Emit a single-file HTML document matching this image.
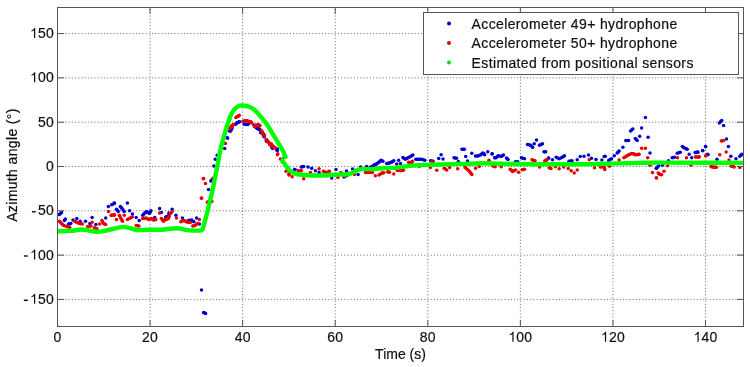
<!DOCTYPE html>
<html><head><meta charset="utf-8"><style>
html,body{margin:0;padding:0;background:#fff;width:750px;height:367px;overflow:hidden}
svg{display:block}
.g{stroke:#707070;stroke-width:1;stroke-dasharray:1.05 2.155;stroke-dashoffset:1.7;fill:none}
.a{stroke:#555;stroke-width:1}
.t{font-family:"Liberation Sans",sans-serif;font-size:14.0px;fill:#111;stroke:#111;stroke-width:0.2px}
.tf{fill:#111;stroke:#111;stroke-width:0.2px}
.lg{letter-spacing:0.37px}
</style></head><body>
<svg width="750" height="367" viewBox="0 0 750 367">
<defs><clipPath id="cp"><rect x="57.5" y="7.5" width="686.0" height="319.0"/></clipPath>
<filter id="bl" x="0" y="0" width="100%" height="100%"><feGaussianBlur stdDeviation="0.35"/></filter></defs>
<g filter="url(#bl)">
<line x1="150.07" y1="7.5" x2="150.07" y2="326.5" class="g"/>
<line x1="242.64" y1="7.5" x2="242.64" y2="326.5" class="g"/>
<line x1="335.22" y1="7.5" x2="335.22" y2="326.5" class="g"/>
<line x1="427.79" y1="7.5" x2="427.79" y2="326.5" class="g"/>
<line x1="520.36" y1="7.5" x2="520.36" y2="326.5" class="g"/>
<line x1="612.93" y1="7.5" x2="612.93" y2="326.5" class="g"/>
<line x1="705.50" y1="7.5" x2="705.50" y2="326.5" class="g"/>
<line x1="57.5" y1="299.41" x2="743.5" y2="299.41" class="g"/>
<line x1="57.5" y1="255.11" x2="743.5" y2="255.11" class="g"/>
<line x1="57.5" y1="210.81" x2="743.5" y2="210.81" class="g"/>
<line x1="57.5" y1="166.50" x2="743.5" y2="166.50" class="g"/>
<line x1="57.5" y1="122.19" x2="743.5" y2="122.19" class="g"/>
<line x1="57.5" y1="77.89" x2="743.5" y2="77.89" class="g"/>
<line x1="57.5" y1="33.59" x2="743.5" y2="33.59" class="g"/>
<g clip-path="url(#cp)"><g fill="#0000d2"><circle cx="370.5" cy="167.0" r="1.75"/><circle cx="373.5" cy="165.5" r="1.75"/><circle cx="375.0" cy="164.7" r="1.75"/><circle cx="257.1" cy="128.1" r="1.75"/><circle cx="259.8" cy="129.2" r="1.75"/><circle cx="260.9" cy="132.4" r="1.75"/><circle cx="264.2" cy="136.8" r="1.75"/><circle cx="267.4" cy="141.7" r="1.75"/><circle cx="272.9" cy="148.2" r="1.75"/><circle cx="277.2" cy="150.4" r="1.75"/><circle cx="59.4" cy="214.6" r="1.75"/><circle cx="61.5" cy="212.4" r="1.75"/><circle cx="64.3" cy="220.6" r="1.75"/><circle cx="65.4" cy="219.0" r="1.75"/><circle cx="68.6" cy="223.9" r="1.75"/><circle cx="70.8" cy="223.4" r="1.75"/><circle cx="73.0" cy="220.1" r="1.75"/><circle cx="76.8" cy="218.4" r="1.75"/><circle cx="80.1" cy="221.2" r="1.75"/><circle cx="85.5" cy="221.2" r="1.75"/><circle cx="92.1" cy="217.4" r="1.75"/><circle cx="89.9" cy="223.4" r="1.75"/><circle cx="95.9" cy="224.4" r="1.75"/><circle cx="105.7" cy="217.9" r="1.75"/><circle cx="108.4" cy="206.5" r="1.75"/><circle cx="111.7" cy="204.8" r="1.75"/><circle cx="114.4" cy="203.2" r="1.75"/><circle cx="114.4" cy="202.9" r="1.75"/><circle cx="116.5" cy="209.2" r="1.75"/><circle cx="118.2" cy="211.4" r="1.75"/><circle cx="120.4" cy="206.5" r="1.75"/><circle cx="122.0" cy="208.6" r="1.75"/><circle cx="124.2" cy="211.4" r="1.75"/><circle cx="127.4" cy="202.9" r="1.75"/><circle cx="129.6" cy="210.8" r="1.75"/><circle cx="132.4" cy="214.1" r="1.75"/><circle cx="136.2" cy="217.4" r="1.75"/><circle cx="139.2" cy="220.6" r="1.75"/><circle cx="142.7" cy="215.2" r="1.75"/><circle cx="144.9" cy="213.0" r="1.75"/><circle cx="146.5" cy="211.4" r="1.75"/><circle cx="150.9" cy="210.8" r="1.75"/><circle cx="149.3" cy="213.5" r="1.75"/><circle cx="154.7" cy="217.4" r="1.75"/><circle cx="159.6" cy="208.6" r="1.75"/><circle cx="161.3" cy="212.4" r="1.75"/><circle cx="165.6" cy="217.4" r="1.75"/><circle cx="168.9" cy="213.0" r="1.75"/><circle cx="166.1" cy="216.8" r="1.75"/><circle cx="168.8" cy="216.3" r="1.75"/><circle cx="172.1" cy="209.2" r="1.75"/><circle cx="175.9" cy="215.2" r="1.75"/><circle cx="182.4" cy="217.9" r="1.75"/><circle cx="188.4" cy="220.6" r="1.75"/><circle cx="191.7" cy="220.1" r="1.75"/><circle cx="193.9" cy="221.7" r="1.75"/><circle cx="196.6" cy="217.9" r="1.75"/><circle cx="199.4" cy="223.9" r="1.75"/><circle cx="201.5" cy="290.1" r="1.75"/><circle cx="203.6" cy="312.5" r="1.75"/><circle cx="205.6" cy="313.6" r="1.75"/><circle cx="208.5" cy="189.6" r="1.75"/><circle cx="210.9" cy="181.1" r="1.75"/><circle cx="211.8" cy="180.0" r="1.75"/><circle cx="213.8" cy="166.1" r="1.75"/><circle cx="215.2" cy="159.3" r="1.75"/><circle cx="217.2" cy="155.2" r="1.75"/><circle cx="224.7" cy="148.4" r="1.75"/><circle cx="227.5" cy="138.2" r="1.75"/><circle cx="230.9" cy="130.7" r="1.75"/><circle cx="227.2" cy="137.6" r="1.75"/><circle cx="229.4" cy="131.1" r="1.75"/><circle cx="231.0" cy="128.9" r="1.75"/><circle cx="234.8" cy="124.5" r="1.75"/><circle cx="238.1" cy="122.3" r="1.75"/><circle cx="239.7" cy="121.8" r="1.75"/><circle cx="244.1" cy="124.0" r="1.75"/><circle cx="246.8" cy="124.5" r="1.75"/><circle cx="248.4" cy="124.0" r="1.75"/><circle cx="253.9" cy="125.0" r="1.75"/><circle cx="256.1" cy="127.8" r="1.75"/><circle cx="258.2" cy="128.9" r="1.75"/><circle cx="261.0" cy="131.1" r="1.75"/><circle cx="263.1" cy="133.8" r="1.75"/><circle cx="236.4" cy="123.4" r="1.75"/><circle cx="232.1" cy="127.7" r="1.75"/><circle cx="257.5" cy="127.9" r="1.75"/><circle cx="260.9" cy="132.7" r="1.75"/><circle cx="263.6" cy="136.1" r="1.75"/><circle cx="266.3" cy="140.9" r="1.75"/><circle cx="271.8" cy="147.0" r="1.75"/><circle cx="277.2" cy="149.0" r="1.75"/><circle cx="272.2" cy="148.1" r="1.75"/><circle cx="277.1" cy="150.3" r="1.75"/><circle cx="284.2" cy="157.4" r="1.75"/><circle cx="294.5" cy="169.4" r="1.75"/><circle cx="301.3" cy="167.0" r="1.75"/><circle cx="303.7" cy="166.4" r="1.75"/><circle cx="308.0" cy="167.0" r="1.75"/><circle cx="311.7" cy="168.2" r="1.75"/><circle cx="315.4" cy="170.7" r="1.75"/><circle cx="319.1" cy="172.5" r="1.75"/><circle cx="326.4" cy="173.1" r="1.75"/><circle cx="295.1" cy="169.4" r="1.75"/><circle cx="327.5" cy="175.7" r="1.75"/><circle cx="331.7" cy="178.1" r="1.75"/><circle cx="336.0" cy="169.5" r="1.75"/><circle cx="344.0" cy="176.9" r="1.75"/><circle cx="346.5" cy="171.0" r="1.75"/><circle cx="352.6" cy="168.9" r="1.75"/><circle cx="358.1" cy="174.4" r="1.75"/><circle cx="360.6" cy="167.1" r="1.75"/><circle cx="366.7" cy="166.5" r="1.75"/><circle cx="372.9" cy="167.1" r="1.75"/><circle cx="376.5" cy="164.0" r="1.75"/><circle cx="379.0" cy="162.2" r="1.75"/><circle cx="441.1" cy="154.7" r="1.75"/><circle cx="443.0" cy="159.0" r="1.75"/><circle cx="454.0" cy="157.8" r="1.75"/><circle cx="456.5" cy="158.2" r="1.75"/><circle cx="458.3" cy="161.5" r="1.75"/><circle cx="462.0" cy="149.2" r="1.75"/><circle cx="464.4" cy="149.2" r="1.75"/><circle cx="465.7" cy="156.6" r="1.75"/><circle cx="467.5" cy="160.9" r="1.75"/><circle cx="471.8" cy="153.3" r="1.75"/><circle cx="475.5" cy="156.0" r="1.75"/><circle cx="478.0" cy="156.0" r="1.75"/><circle cx="481.0" cy="154.7" r="1.75"/><circle cx="482.9" cy="152.9" r="1.75"/><circle cx="484.7" cy="154.7" r="1.75"/><circle cx="487.8" cy="151.7" r="1.75"/><circle cx="492.0" cy="154.1" r="1.75"/><circle cx="494.5" cy="157.8" r="1.75"/><circle cx="492.2" cy="153.8" r="1.75"/><circle cx="496.0" cy="157.7" r="1.75"/><circle cx="498.2" cy="155.7" r="1.75"/><circle cx="501.2" cy="156.5" r="1.75"/><circle cx="503.5" cy="155.0" r="1.75"/><circle cx="506.5" cy="158.0" r="1.75"/><circle cx="508.0" cy="159.5" r="1.75"/><circle cx="515.5" cy="161.7" r="1.75"/><circle cx="517.7" cy="161.7" r="1.75"/><circle cx="521.5" cy="157.7" r="1.75"/><circle cx="524.5" cy="158.7" r="1.75"/><circle cx="527.5" cy="144.5" r="1.75"/><circle cx="530.5" cy="145.2" r="1.75"/><circle cx="532.7" cy="147.5" r="1.75"/><circle cx="534.2" cy="143.7" r="1.75"/><circle cx="536.5" cy="140.0" r="1.75"/><circle cx="539.5" cy="145.2" r="1.75"/><circle cx="542.5" cy="143.7" r="1.75"/><circle cx="544.0" cy="151.7" r="1.75"/><circle cx="548.5" cy="158.0" r="1.75"/><circle cx="545.7" cy="151.7" r="1.75"/><circle cx="548.7" cy="158.3" r="1.75"/><circle cx="552.5" cy="159.8" r="1.75"/><circle cx="556.2" cy="157.2" r="1.75"/><circle cx="559.2" cy="158.7" r="1.75"/><circle cx="562.2" cy="157.2" r="1.75"/><circle cx="564.5" cy="155.7" r="1.75"/><circle cx="569.0" cy="161.3" r="1.75"/><circle cx="572.0" cy="160.7" r="1.75"/><circle cx="577.2" cy="159.8" r="1.75"/><circle cx="580.2" cy="156.5" r="1.75"/><circle cx="584.0" cy="156.2" r="1.75"/><circle cx="588.5" cy="155.0" r="1.75"/><circle cx="591.5" cy="158.3" r="1.75"/><circle cx="596.0" cy="159.5" r="1.75"/><circle cx="604.2" cy="156.5" r="1.75"/><circle cx="601.9" cy="160.0" r="1.75"/><circle cx="605.3" cy="156.2" r="1.75"/><circle cx="608.6" cy="160.6" r="1.75"/><circle cx="611.5" cy="158.7" r="1.75"/><circle cx="614.3" cy="155.8" r="1.75"/><circle cx="617.2" cy="152.9" r="1.75"/><circle cx="619.1" cy="151.0" r="1.75"/><circle cx="622.9" cy="147.2" r="1.75"/><circle cx="625.8" cy="140.5" r="1.75"/><circle cx="628.6" cy="140.5" r="1.75"/><circle cx="630.5" cy="131.0" r="1.75"/><circle cx="632.8" cy="129.1" r="1.75"/><circle cx="635.3" cy="138.6" r="1.75"/><circle cx="637.2" cy="140.5" r="1.75"/><circle cx="639.7" cy="136.3" r="1.75"/><circle cx="641.6" cy="128.1" r="1.75"/><circle cx="645.4" cy="117.6" r="1.75"/><circle cx="648.1" cy="137.3" r="1.75"/><circle cx="650.0" cy="152.9" r="1.75"/><circle cx="656.3" cy="168.2" r="1.75"/><circle cx="656.5" cy="168.2" r="1.75"/><circle cx="658.7" cy="165.7" r="1.75"/><circle cx="662.5" cy="165.2" r="1.75"/><circle cx="668.5" cy="160.7" r="1.75"/><circle cx="672.2" cy="157.7" r="1.75"/><circle cx="674.5" cy="157.3" r="1.75"/><circle cx="677.2" cy="153.2" r="1.75"/><circle cx="680.2" cy="152.2" r="1.75"/><circle cx="682.3" cy="146.5" r="1.75"/><circle cx="685.0" cy="148.3" r="1.75"/><circle cx="687.2" cy="149.2" r="1.75"/><circle cx="689.2" cy="154.3" r="1.75"/><circle cx="691.7" cy="157.7" r="1.75"/><circle cx="695.2" cy="152.5" r="1.75"/><circle cx="697.7" cy="152.2" r="1.75"/><circle cx="702.7" cy="150.7" r="1.75"/><circle cx="705.7" cy="146.8" r="1.75"/><circle cx="707.5" cy="154.3" r="1.75"/><circle cx="696.0" cy="152.4" r="1.75"/><circle cx="697.9" cy="152.0" r="1.75"/><circle cx="702.6" cy="150.5" r="1.75"/><circle cx="705.5" cy="146.6" r="1.75"/><circle cx="708.0" cy="154.8" r="1.75"/><circle cx="717.0" cy="159.2" r="1.75"/><circle cx="719.4" cy="123.0" r="1.75"/><circle cx="721.7" cy="120.5" r="1.75"/><circle cx="723.6" cy="125.6" r="1.75"/><circle cx="726.5" cy="139.0" r="1.75"/><circle cx="728.4" cy="146.6" r="1.75"/><circle cx="730.9" cy="156.2" r="1.75"/><circle cx="736.0" cy="158.7" r="1.75"/><circle cx="739.8" cy="156.2" r="1.75"/><circle cx="741.8" cy="154.3" r="1.75"/><circle cx="381.0" cy="160.3" r="1.75"/><circle cx="382.9" cy="161.2" r="1.75"/><circle cx="386.7" cy="163.6" r="1.75"/><circle cx="389.5" cy="163.1" r="1.75"/><circle cx="391.5" cy="162.2" r="1.75"/><circle cx="393.8" cy="160.7" r="1.75"/><circle cx="396.7" cy="164.1" r="1.75"/><circle cx="398.6" cy="160.3" r="1.75"/><circle cx="400.5" cy="163.6" r="1.75"/><circle cx="402.9" cy="157.4" r="1.75"/><circle cx="405.3" cy="159.3" r="1.75"/><circle cx="407.7" cy="157.9" r="1.75"/><circle cx="410.5" cy="156.5" r="1.75"/><circle cx="412.9" cy="155.0" r="1.75"/><circle cx="415.8" cy="159.3" r="1.75"/><circle cx="418.6" cy="159.3" r="1.75"/><circle cx="421.5" cy="159.3" r="1.75"/><circle cx="424.8" cy="160.3" r="1.75"/><circle cx="430.6" cy="160.7" r="1.75"/><circle cx="433.0" cy="161.2" r="1.75"/><circle cx="438.7" cy="158.4" r="1.75"/><circle cx="60.5" cy="213.5" r="1.75"/><circle cx="64.8" cy="219.8" r="1.75"/><circle cx="69.7" cy="223.7" r="1.75"/><circle cx="113.1" cy="203.9" r="1.75"/><circle cx="117.3" cy="210.3" r="1.75"/><circle cx="121.2" cy="207.6" r="1.75"/><circle cx="123.1" cy="210.0" r="1.75"/><circle cx="143.8" cy="214.1" r="1.75"/><circle cx="145.7" cy="212.2" r="1.75"/><circle cx="147.9" cy="212.4" r="1.75"/><circle cx="150.1" cy="212.2" r="1.75"/><circle cx="167.4" cy="216.6" r="1.75"/><circle cx="168.9" cy="214.7" r="1.75"/><circle cx="190.1" cy="220.3" r="1.75"/><circle cx="192.8" cy="220.9" r="1.75"/><circle cx="204.6" cy="313.1" r="1.75"/><circle cx="211.4" cy="180.6" r="1.75"/><circle cx="230.2" cy="130.9" r="1.75"/><circle cx="230.9" cy="129.8" r="1.75"/><circle cx="231.6" cy="128.3" r="1.75"/><circle cx="235.6" cy="124.0" r="1.75"/><circle cx="237.2" cy="122.8" r="1.75"/><circle cx="238.9" cy="122.0" r="1.75"/><circle cx="245.4" cy="124.2" r="1.75"/><circle cx="247.6" cy="124.2" r="1.75"/><circle cx="255.0" cy="126.4" r="1.75"/><circle cx="257.9" cy="128.4" r="1.75"/><circle cx="259.0" cy="129.1" r="1.75"/><circle cx="260.4" cy="130.8" r="1.75"/><circle cx="260.9" cy="131.9" r="1.75"/><circle cx="262.1" cy="132.4" r="1.75"/><circle cx="263.4" cy="134.9" r="1.75"/><circle cx="266.9" cy="141.3" r="1.75"/><circle cx="277.1" cy="149.7" r="1.75"/><circle cx="277.2" cy="149.7" r="1.75"/><circle cx="302.5" cy="166.7" r="1.75"/><circle cx="326.9" cy="174.4" r="1.75"/><circle cx="371.7" cy="167.1" r="1.75"/><circle cx="373.2" cy="166.3" r="1.75"/><circle cx="374.2" cy="165.1" r="1.75"/><circle cx="375.8" cy="164.3" r="1.75"/><circle cx="377.8" cy="163.1" r="1.75"/><circle cx="380.0" cy="161.2" r="1.75"/><circle cx="381.9" cy="160.8" r="1.75"/><circle cx="388.1" cy="163.3" r="1.75"/><circle cx="390.5" cy="162.6" r="1.75"/><circle cx="392.6" cy="161.4" r="1.75"/><circle cx="404.1" cy="158.4" r="1.75"/><circle cx="406.5" cy="158.6" r="1.75"/><circle cx="409.1" cy="157.2" r="1.75"/><circle cx="411.7" cy="155.8" r="1.75"/><circle cx="417.2" cy="159.3" r="1.75"/><circle cx="420.1" cy="159.3" r="1.75"/><circle cx="423.1" cy="159.8" r="1.75"/><circle cx="431.8" cy="160.9" r="1.75"/><circle cx="455.2" cy="158.0" r="1.75"/><circle cx="463.2" cy="149.2" r="1.75"/><circle cx="476.8" cy="156.0" r="1.75"/><circle cx="479.5" cy="155.3" r="1.75"/><circle cx="481.9" cy="153.8" r="1.75"/><circle cx="483.8" cy="153.8" r="1.75"/><circle cx="495.2" cy="157.8" r="1.75"/><circle cx="497.1" cy="156.7" r="1.75"/><circle cx="499.7" cy="156.1" r="1.75"/><circle cx="502.4" cy="155.8" r="1.75"/><circle cx="507.2" cy="158.8" r="1.75"/><circle cx="516.6" cy="161.7" r="1.75"/><circle cx="523.0" cy="158.2" r="1.75"/><circle cx="529.0" cy="144.8" r="1.75"/><circle cx="531.6" cy="146.3" r="1.75"/><circle cx="541.0" cy="144.4" r="1.75"/><circle cx="544.9" cy="151.7" r="1.75"/><circle cx="557.7" cy="157.9" r="1.75"/><circle cx="560.7" cy="157.9" r="1.75"/><circle cx="563.4" cy="156.4" r="1.75"/><circle cx="570.5" cy="161.0" r="1.75"/><circle cx="610.0" cy="159.6" r="1.75"/><circle cx="618.2" cy="151.9" r="1.75"/><circle cx="627.2" cy="140.5" r="1.75"/><circle cx="631.6" cy="130.1" r="1.75"/><circle cx="636.2" cy="139.6" r="1.75"/><circle cx="657.6" cy="166.9" r="1.75"/><circle cx="673.4" cy="157.5" r="1.75"/><circle cx="678.7" cy="152.7" r="1.75"/><circle cx="683.6" cy="147.4" r="1.75"/><circle cx="686.1" cy="148.8" r="1.75"/><circle cx="696.9" cy="152.3" r="1.75"/><circle cx="720.5" cy="121.8" r="1.75"/><circle cx="740.8" cy="155.2" r="1.75"/></g>
<g fill="#e60000"><circle cx="366.5" cy="172.6" r="1.75"/><circle cx="369.2" cy="172.6" r="1.75"/><circle cx="372.4" cy="172.6" r="1.75"/><circle cx="256.5" cy="125.4" r="1.75"/><circle cx="259.3" cy="125.4" r="1.75"/><circle cx="261.4" cy="131.3" r="1.75"/><circle cx="263.6" cy="135.2" r="1.75"/><circle cx="266.3" cy="140.1" r="1.75"/><circle cx="268.0" cy="141.2" r="1.75"/><circle cx="270.2" cy="144.4" r="1.75"/><circle cx="272.9" cy="146.6" r="1.75"/><circle cx="274.5" cy="147.5" r="1.75"/><circle cx="277.8" cy="153.7" r="1.75"/><circle cx="59.4" cy="221.2" r="1.75"/><circle cx="61.5" cy="223.4" r="1.75"/><circle cx="63.7" cy="225.5" r="1.75"/><circle cx="67.0" cy="226.6" r="1.75"/><circle cx="69.7" cy="227.2" r="1.75"/><circle cx="74.6" cy="221.2" r="1.75"/><circle cx="76.8" cy="222.3" r="1.75"/><circle cx="79.5" cy="223.4" r="1.75"/><circle cx="82.3" cy="223.9" r="1.75"/><circle cx="87.7" cy="226.6" r="1.75"/><circle cx="91.0" cy="226.1" r="1.75"/><circle cx="92.1" cy="222.3" r="1.75"/><circle cx="94.3" cy="227.7" r="1.75"/><circle cx="97.0" cy="228.8" r="1.75"/><circle cx="99.7" cy="223.9" r="1.75"/><circle cx="101.9" cy="220.6" r="1.75"/><circle cx="103.5" cy="223.4" r="1.75"/><circle cx="105.7" cy="224.4" r="1.75"/><circle cx="108.4" cy="211.4" r="1.75"/><circle cx="111.7" cy="215.2" r="1.75"/><circle cx="114.4" cy="215.2" r="1.75"/><circle cx="111.1" cy="215.2" r="1.75"/><circle cx="114.4" cy="214.6" r="1.75"/><circle cx="116.5" cy="219.5" r="1.75"/><circle cx="119.3" cy="215.2" r="1.75"/><circle cx="120.9" cy="218.4" r="1.75"/><circle cx="122.5" cy="221.2" r="1.75"/><circle cx="124.2" cy="215.2" r="1.75"/><circle cx="127.4" cy="219.5" r="1.75"/><circle cx="130.2" cy="217.9" r="1.75"/><circle cx="132.4" cy="216.8" r="1.75"/><circle cx="136.2" cy="225.5" r="1.75"/><circle cx="138.9" cy="226.1" r="1.75"/><circle cx="142.7" cy="218.4" r="1.75"/><circle cx="146.0" cy="217.9" r="1.75"/><circle cx="148.7" cy="219.5" r="1.75"/><circle cx="151.4" cy="218.4" r="1.75"/><circle cx="153.6" cy="220.1" r="1.75"/><circle cx="155.8" cy="219.5" r="1.75"/><circle cx="159.6" cy="213.0" r="1.75"/><circle cx="161.3" cy="218.4" r="1.75"/><circle cx="163.4" cy="221.2" r="1.75"/><circle cx="165.6" cy="219.0" r="1.75"/><circle cx="168.9" cy="216.8" r="1.75"/><circle cx="166.1" cy="219.5" r="1.75"/><circle cx="168.3" cy="218.4" r="1.75"/><circle cx="170.5" cy="213.5" r="1.75"/><circle cx="172.1" cy="211.4" r="1.75"/><circle cx="176.5" cy="217.9" r="1.75"/><circle cx="180.8" cy="221.7" r="1.75"/><circle cx="184.1" cy="220.6" r="1.75"/><circle cx="186.3" cy="221.7" r="1.75"/><circle cx="188.4" cy="222.3" r="1.75"/><circle cx="190.6" cy="222.3" r="1.75"/><circle cx="192.8" cy="226.1" r="1.75"/><circle cx="195.0" cy="225.5" r="1.75"/><circle cx="197.7" cy="223.4" r="1.75"/><circle cx="199.4" cy="219.5" r="1.75"/><circle cx="201.5" cy="198.3" r="1.75"/><circle cx="208.6" cy="202.1" r="1.75"/><circle cx="211.9" cy="201.5" r="1.75"/><circle cx="203.3" cy="178.7" r="1.75"/><circle cx="205.5" cy="183.6" r="1.75"/><circle cx="201.4" cy="198.1" r="1.75"/><circle cx="207.4" cy="202.2" r="1.75"/><circle cx="212.9" cy="178.2" r="1.75"/><circle cx="203.6" cy="178.4" r="1.75"/><circle cx="225.4" cy="143.6" r="1.75"/><circle cx="229.9" cy="128.3" r="1.75"/><circle cx="231.5" cy="126.7" r="1.75"/><circle cx="233.7" cy="124.5" r="1.75"/><circle cx="235.9" cy="117.4" r="1.75"/><circle cx="238.1" cy="116.3" r="1.75"/><circle cx="239.2" cy="115.3" r="1.75"/><circle cx="243.0" cy="121.3" r="1.75"/><circle cx="245.2" cy="120.7" r="1.75"/><circle cx="247.3" cy="120.7" r="1.75"/><circle cx="249.5" cy="121.8" r="1.75"/><circle cx="251.7" cy="122.9" r="1.75"/><circle cx="255.0" cy="125.6" r="1.75"/><circle cx="257.7" cy="125.1" r="1.75"/><circle cx="259.9" cy="125.6" r="1.75"/><circle cx="262.6" cy="132.7" r="1.75"/><circle cx="264.2" cy="135.4" r="1.75"/><circle cx="229.9" cy="127.7" r="1.75"/><circle cx="232.1" cy="125.5" r="1.75"/><circle cx="238.6" cy="115.7" r="1.75"/><circle cx="254.4" cy="126.6" r="1.75"/><circle cx="250.7" cy="121.8" r="1.75"/><circle cx="255.4" cy="125.2" r="1.75"/><circle cx="258.2" cy="124.5" r="1.75"/><circle cx="261.6" cy="130.7" r="1.75"/><circle cx="264.3" cy="134.7" r="1.75"/><circle cx="266.3" cy="139.5" r="1.75"/><circle cx="269.8" cy="143.6" r="1.75"/><circle cx="273.2" cy="146.3" r="1.75"/><circle cx="275.2" cy="147.7" r="1.75"/><circle cx="270.0" cy="144.9" r="1.75"/><circle cx="273.1" cy="146.7" r="1.75"/><circle cx="277.4" cy="154.7" r="1.75"/><circle cx="280.4" cy="159.0" r="1.75"/><circle cx="282.3" cy="162.1" r="1.75"/><circle cx="286.0" cy="171.3" r="1.75"/><circle cx="289.0" cy="175.0" r="1.75"/><circle cx="292.1" cy="176.8" r="1.75"/><circle cx="298.2" cy="170.7" r="1.75"/><circle cx="301.3" cy="170.7" r="1.75"/><circle cx="303.7" cy="178.7" r="1.75"/><circle cx="310.5" cy="172.5" r="1.75"/><circle cx="319.1" cy="168.8" r="1.75"/><circle cx="323.4" cy="171.3" r="1.75"/><circle cx="328.9" cy="171.3" r="1.75"/><circle cx="271.1" cy="143.7" r="1.75"/><circle cx="283.1" cy="161.2" r="1.75"/><circle cx="289.1" cy="173.7" r="1.75"/><circle cx="325.0" cy="172.0" r="1.75"/><circle cx="329.3" cy="171.4" r="1.75"/><circle cx="333.0" cy="174.4" r="1.75"/><circle cx="337.9" cy="177.5" r="1.75"/><circle cx="341.0" cy="172.6" r="1.75"/><circle cx="345.2" cy="176.3" r="1.75"/><circle cx="347.7" cy="175.1" r="1.75"/><circle cx="354.4" cy="174.4" r="1.75"/><circle cx="365.5" cy="172.6" r="1.75"/><circle cx="370.4" cy="172.0" r="1.75"/><circle cx="375.3" cy="175.7" r="1.75"/><circle cx="379.0" cy="175.1" r="1.75"/><circle cx="444.2" cy="168.2" r="1.75"/><circle cx="446.7" cy="170.1" r="1.75"/><circle cx="449.7" cy="167.6" r="1.75"/><circle cx="457.7" cy="168.8" r="1.75"/><circle cx="465.1" cy="167.6" r="1.75"/><circle cx="467.5" cy="169.4" r="1.75"/><circle cx="470.0" cy="171.9" r="1.75"/><circle cx="471.8" cy="174.4" r="1.75"/><circle cx="475.5" cy="168.2" r="1.75"/><circle cx="479.2" cy="166.4" r="1.75"/><circle cx="489.0" cy="160.2" r="1.75"/><circle cx="492.7" cy="165.8" r="1.75"/><circle cx="495.2" cy="166.7" r="1.75"/><circle cx="501.2" cy="166.7" r="1.75"/><circle cx="510.2" cy="169.2" r="1.75"/><circle cx="512.5" cy="171.5" r="1.75"/><circle cx="515.5" cy="170.0" r="1.75"/><circle cx="518.5" cy="172.2" r="1.75"/><circle cx="522.2" cy="169.7" r="1.75"/><circle cx="524.5" cy="169.2" r="1.75"/><circle cx="532.0" cy="159.8" r="1.75"/><circle cx="535.0" cy="160.7" r="1.75"/><circle cx="539.5" cy="167.0" r="1.75"/><circle cx="544.7" cy="161.0" r="1.75"/><circle cx="547.0" cy="159.8" r="1.75"/><circle cx="549.2" cy="167.7" r="1.75"/><circle cx="546.5" cy="159.8" r="1.75"/><circle cx="551.0" cy="168.5" r="1.75"/><circle cx="555.5" cy="166.7" r="1.75"/><circle cx="559.2" cy="168.8" r="1.75"/><circle cx="563.7" cy="167.0" r="1.75"/><circle cx="568.2" cy="168.5" r="1.75"/><circle cx="571.2" cy="170.7" r="1.75"/><circle cx="574.2" cy="173.0" r="1.75"/><circle cx="577.2" cy="170.0" r="1.75"/><circle cx="589.2" cy="159.8" r="1.75"/><circle cx="594.5" cy="167.7" r="1.75"/><circle cx="600.5" cy="167.0" r="1.75"/><circle cx="604.2" cy="167.0" r="1.75"/><circle cx="601.9" cy="166.3" r="1.75"/><circle cx="604.8" cy="169.5" r="1.75"/><circle cx="609.5" cy="166.3" r="1.75"/><circle cx="619.1" cy="160.0" r="1.75"/><circle cx="623.9" cy="157.7" r="1.75"/><circle cx="628.6" cy="154.8" r="1.75"/><circle cx="631.5" cy="153.5" r="1.75"/><circle cx="635.3" cy="154.8" r="1.75"/><circle cx="639.1" cy="154.3" r="1.75"/><circle cx="626.3" cy="156.2" r="1.75"/><circle cx="633.4" cy="153.8" r="1.75"/><circle cx="637.2" cy="154.6" r="1.75"/><circle cx="641.6" cy="148.2" r="1.75"/><circle cx="645.4" cy="148.2" r="1.75"/><circle cx="647.7" cy="157.7" r="1.75"/><circle cx="650.0" cy="165.3" r="1.75"/><circle cx="652.5" cy="172.6" r="1.75"/><circle cx="656.3" cy="177.7" r="1.75"/><circle cx="658.2" cy="173.0" r="1.75"/><circle cx="656.5" cy="178.0" r="1.75"/><circle cx="659.5" cy="174.2" r="1.75"/><circle cx="661.7" cy="174.7" r="1.75"/><circle cx="664.0" cy="171.2" r="1.75"/><circle cx="667.7" cy="165.7" r="1.75"/><circle cx="677.5" cy="157.7" r="1.75"/><circle cx="686.5" cy="157.7" r="1.75"/><circle cx="691.0" cy="165.2" r="1.75"/><circle cx="695.5" cy="157.0" r="1.75"/><circle cx="699.2" cy="156.7" r="1.75"/><circle cx="706.0" cy="155.8" r="1.75"/><circle cx="711.2" cy="166.7" r="1.75"/><circle cx="714.2" cy="167.2" r="1.75"/><circle cx="696.0" cy="156.8" r="1.75"/><circle cx="698.8" cy="157.3" r="1.75"/><circle cx="705.5" cy="155.8" r="1.75"/><circle cx="711.2" cy="166.3" r="1.75"/><circle cx="714.1" cy="167.3" r="1.75"/><circle cx="716.4" cy="167.3" r="1.75"/><circle cx="719.8" cy="154.8" r="1.75"/><circle cx="721.3" cy="140.9" r="1.75"/><circle cx="723.6" cy="140.5" r="1.75"/><circle cx="726.1" cy="152.0" r="1.75"/><circle cx="729.0" cy="160.0" r="1.75"/><circle cx="731.3" cy="166.3" r="1.75"/><circle cx="734.1" cy="166.9" r="1.75"/><circle cx="739.8" cy="167.6" r="1.75"/><circle cx="381.9" cy="173.1" r="1.75"/><circle cx="383.8" cy="172.7" r="1.75"/><circle cx="387.6" cy="171.7" r="1.75"/><circle cx="389.5" cy="172.2" r="1.75"/><circle cx="393.8" cy="174.1" r="1.75"/><circle cx="397.2" cy="170.3" r="1.75"/><circle cx="400.5" cy="170.8" r="1.75"/><circle cx="403.4" cy="170.3" r="1.75"/><circle cx="408.6" cy="162.2" r="1.75"/><circle cx="412.4" cy="161.2" r="1.75"/><circle cx="411.5" cy="163.1" r="1.75"/><circle cx="432.0" cy="161.2" r="1.75"/><circle cx="436.8" cy="170.3" r="1.75"/><circle cx="419.3" cy="166.4" r="1.75"/><circle cx="430.3" cy="167.6" r="1.75"/><circle cx="60.5" cy="222.3" r="1.75"/><circle cx="62.6" cy="224.4" r="1.75"/><circle cx="65.3" cy="226.1" r="1.75"/><circle cx="68.3" cy="226.9" r="1.75"/><circle cx="75.7" cy="221.8" r="1.75"/><circle cx="78.2" cy="222.9" r="1.75"/><circle cx="80.9" cy="223.7" r="1.75"/><circle cx="89.3" cy="226.3" r="1.75"/><circle cx="95.7" cy="228.2" r="1.75"/><circle cx="102.7" cy="222.0" r="1.75"/><circle cx="104.6" cy="223.9" r="1.75"/><circle cx="113.1" cy="214.9" r="1.75"/><circle cx="120.1" cy="216.8" r="1.75"/><circle cx="121.7" cy="219.8" r="1.75"/><circle cx="128.8" cy="218.7" r="1.75"/><circle cx="131.3" cy="217.4" r="1.75"/><circle cx="137.6" cy="225.8" r="1.75"/><circle cx="144.3" cy="218.2" r="1.75"/><circle cx="147.3" cy="218.7" r="1.75"/><circle cx="150.1" cy="218.9" r="1.75"/><circle cx="152.5" cy="219.2" r="1.75"/><circle cx="154.7" cy="219.8" r="1.75"/><circle cx="162.4" cy="219.8" r="1.75"/><circle cx="164.5" cy="220.1" r="1.75"/><circle cx="167.2" cy="218.9" r="1.75"/><circle cx="168.6" cy="217.6" r="1.75"/><circle cx="171.3" cy="212.4" r="1.75"/><circle cx="182.4" cy="221.1" r="1.75"/><circle cx="185.2" cy="221.1" r="1.75"/><circle cx="187.4" cy="222.0" r="1.75"/><circle cx="189.5" cy="222.3" r="1.75"/><circle cx="193.9" cy="225.8" r="1.75"/><circle cx="196.3" cy="224.4" r="1.75"/><circle cx="208.0" cy="202.1" r="1.75"/><circle cx="210.2" cy="201.8" r="1.75"/><circle cx="230.7" cy="127.5" r="1.75"/><circle cx="231.8" cy="126.1" r="1.75"/><circle cx="232.9" cy="125.0" r="1.75"/><circle cx="237.0" cy="116.8" r="1.75"/><circle cx="244.1" cy="121.0" r="1.75"/><circle cx="246.2" cy="120.7" r="1.75"/><circle cx="248.4" cy="121.2" r="1.75"/><circle cx="251.2" cy="122.3" r="1.75"/><circle cx="257.1" cy="125.2" r="1.75"/><circle cx="258.8" cy="125.0" r="1.75"/><circle cx="262.1" cy="131.7" r="1.75"/><circle cx="263.1" cy="133.9" r="1.75"/><circle cx="267.1" cy="140.6" r="1.75"/><circle cx="268.9" cy="142.4" r="1.75"/><circle cx="269.9" cy="144.2" r="1.75"/><circle cx="272.0" cy="145.1" r="1.75"/><circle cx="273.9" cy="146.9" r="1.75"/><circle cx="282.7" cy="161.6" r="1.75"/><circle cx="289.1" cy="174.3" r="1.75"/><circle cx="299.8" cy="170.7" r="1.75"/><circle cx="324.2" cy="171.7" r="1.75"/><circle cx="346.4" cy="175.7" r="1.75"/><circle cx="367.9" cy="172.6" r="1.75"/><circle cx="369.8" cy="172.3" r="1.75"/><circle cx="371.4" cy="172.3" r="1.75"/><circle cx="380.4" cy="174.1" r="1.75"/><circle cx="382.9" cy="172.9" r="1.75"/><circle cx="388.6" cy="171.9" r="1.75"/><circle cx="398.9" cy="170.6" r="1.75"/><circle cx="401.9" cy="170.6" r="1.75"/><circle cx="410.1" cy="162.6" r="1.75"/><circle cx="411.9" cy="162.1" r="1.75"/><circle cx="445.4" cy="169.1" r="1.75"/><circle cx="466.3" cy="168.5" r="1.75"/><circle cx="468.8" cy="170.7" r="1.75"/><circle cx="470.9" cy="173.2" r="1.75"/><circle cx="493.9" cy="166.2" r="1.75"/><circle cx="511.4" cy="170.3" r="1.75"/><circle cx="514.0" cy="170.8" r="1.75"/><circle cx="523.4" cy="169.4" r="1.75"/><circle cx="533.5" cy="160.2" r="1.75"/><circle cx="545.6" cy="160.4" r="1.75"/><circle cx="550.1" cy="168.1" r="1.75"/><circle cx="601.2" cy="166.7" r="1.75"/><circle cx="603.0" cy="166.7" r="1.75"/><circle cx="604.5" cy="168.2" r="1.75"/><circle cx="625.1" cy="156.9" r="1.75"/><circle cx="627.5" cy="155.5" r="1.75"/><circle cx="630.0" cy="154.2" r="1.75"/><circle cx="632.5" cy="153.7" r="1.75"/><circle cx="634.3" cy="154.3" r="1.75"/><circle cx="636.2" cy="154.7" r="1.75"/><circle cx="638.2" cy="154.4" r="1.75"/><circle cx="658.9" cy="173.6" r="1.75"/><circle cx="660.6" cy="174.4" r="1.75"/><circle cx="697.4" cy="157.1" r="1.75"/><circle cx="712.7" cy="167.0" r="1.75"/><circle cx="715.3" cy="167.2" r="1.75"/><circle cx="722.5" cy="140.7" r="1.75"/><circle cx="732.7" cy="166.6" r="1.75"/></g>
<g fill="none" stroke="#00ff00" stroke-width="4.4" stroke-linejoin="round" stroke-linecap="round"><path d="M57.1,231.4 C58.5,231.3 62.9,231.2 65.7,231.0 C68.5,230.8 71.5,230.8 74.2,230.5 C76.9,230.2 79.2,229.5 81.7,229.5 C84.2,229.5 86.4,230.1 89.1,230.5 C91.8,230.9 94.8,231.9 97.7,231.9 C100.6,231.9 103.4,231.1 106.2,230.5 C109.0,229.9 111.9,229.1 114.7,228.5 C117.5,227.9 120.8,227.0 123.3,226.9 C125.8,226.8 127.7,227.8 129.7,228.2 C131.6,228.6 133.5,229.3 135.0,229.6 C136.5,229.9 135.8,230.0 138.5,230.0 C141.2,230.0 147.4,229.8 151.3,229.7 C155.2,229.6 157.7,229.9 162.0,229.7 C166.3,229.4 173.0,228.2 176.9,228.2 C180.8,228.2 182.7,229.5 185.5,229.9 C188.3,230.3 191.3,230.5 194.0,230.6 C196.7,230.7 200.0,230.8 201.5,230.3 C203.0,229.8 202.8,228.2 203.0,227.8"/><path d="M203.0,227.8 C203.6,225.6 205.4,219.3 206.6,214.8 C207.8,210.3 208.8,205.8 210.0,200.9 C211.2,196.0 212.5,190.3 213.5,185.5 C214.5,180.7 215.3,176.1 216.1,172.0 C216.9,167.9 217.6,164.8 218.3,161.0 C219.1,157.2 219.8,152.6 220.6,149.0 C221.4,145.4 222.3,142.5 223.2,139.2 C224.1,135.9 225.0,132.3 225.9,129.3 C226.8,126.3 227.7,123.7 228.6,121.2 C229.5,118.7 230.3,116.3 231.3,114.3 C232.3,112.2 233.6,110.3 234.8,108.9 C236.1,107.5 237.5,106.6 238.8,106.0 C240.1,105.4 241.2,105.5 242.5,105.5 C243.8,105.5 245.2,105.7 246.5,106.0 C247.8,106.3 248.8,106.5 250.0,107.1 C251.2,107.7 252.8,108.5 254.0,109.4 C255.2,110.3 256.2,111.5 257.3,112.7 C258.4,113.9 259.4,115.1 260.5,116.4 C261.6,117.7 262.7,118.9 263.8,120.3 C264.9,121.7 265.9,123.0 267.0,124.6 C268.1,126.1 269.1,127.8 270.2,129.6 C271.3,131.3 272.4,133.3 273.5,135.1 C274.6,136.9 275.7,138.8 276.8,140.6 C277.9,142.4 279.0,144.3 280.1,146.1 C281.2,147.9 282.3,149.6 283.2,151.4 C284.1,153.2 285.1,156.1 285.5,157.0"/><path d="M282.4,160.6 C283.0,161.5 284.8,164.4 286.0,166.0 C287.2,167.6 288.1,169.0 289.6,170.3 C291.1,171.6 292.9,172.9 294.9,173.6 C296.8,174.3 298.4,174.4 301.3,174.7 C304.2,175.0 308.4,175.4 312.0,175.5 C315.6,175.6 319.1,175.6 322.7,175.5 C326.2,175.4 329.8,174.9 333.3,174.7 C336.9,174.5 341.3,174.6 344.0,174.5 C346.7,174.4 347.8,174.4 349.5,174.0 C351.2,173.6 352.6,172.5 354.0,171.8 C355.4,171.1 356.7,170.2 358.0,169.8 C359.3,169.4 360.0,169.2 362.0,169.1 C364.0,169.0 367.0,169.2 370.0,169.1 C373.0,169.0 377.2,168.7 380.0,168.5 C382.8,168.3 384.1,168.1 387.0,167.9 C389.9,167.8 394.5,167.9 397.7,167.6 C400.9,167.3 403.4,166.5 406.2,166.2 C409.0,165.8 411.7,165.7 414.7,165.5 C417.7,165.3 420.9,165.0 424.3,164.9 C427.7,164.8 431.8,164.8 435.0,164.7 C438.2,164.6 439.7,164.5 443.3,164.4 C446.9,164.3 452.2,164.1 456.7,164.0 C461.1,163.9 465.6,163.8 470.0,163.7 C474.4,163.6 478.9,163.3 483.3,163.3 C487.8,163.3 492.2,163.5 496.7,163.6 C501.1,163.7 505.3,163.9 510.0,164.0 C514.7,164.1 519.8,164.0 525.0,164.1 C530.2,164.2 535.7,164.3 541.0,164.3 C546.3,164.3 551.7,164.3 557.0,164.3 C562.3,164.3 567.7,164.3 573.0,164.3 C578.3,164.3 583.7,164.2 589.0,164.1 C594.3,164.0 599.7,163.9 605.0,163.8 C610.3,163.7 616.3,163.5 621.0,163.4 C625.7,163.3 629.0,163.2 633.0,163.1 C637.0,163.0 639.7,162.9 645.0,162.8 C650.3,162.7 656.3,162.6 665.0,162.6 C673.7,162.6 683.7,162.6 697.0,162.7 C710.3,162.8 737.0,162.9 745.0,162.9"/></g></g>
<line x1="57.50" y1="326.5" x2="57.50" y2="320.0" class="a"/>
<line x1="57.50" y1="7.5" x2="57.50" y2="14.0" class="a"/>
<line x1="150.07" y1="326.5" x2="150.07" y2="320.0" class="a"/>
<line x1="150.07" y1="7.5" x2="150.07" y2="14.0" class="a"/>
<line x1="242.64" y1="326.5" x2="242.64" y2="320.0" class="a"/>
<line x1="242.64" y1="7.5" x2="242.64" y2="14.0" class="a"/>
<line x1="335.22" y1="326.5" x2="335.22" y2="320.0" class="a"/>
<line x1="335.22" y1="7.5" x2="335.22" y2="14.0" class="a"/>
<line x1="427.79" y1="326.5" x2="427.79" y2="320.0" class="a"/>
<line x1="427.79" y1="7.5" x2="427.79" y2="14.0" class="a"/>
<line x1="520.36" y1="326.5" x2="520.36" y2="320.0" class="a"/>
<line x1="520.36" y1="7.5" x2="520.36" y2="14.0" class="a"/>
<line x1="612.93" y1="326.5" x2="612.93" y2="320.0" class="a"/>
<line x1="612.93" y1="7.5" x2="612.93" y2="14.0" class="a"/>
<line x1="705.50" y1="326.5" x2="705.50" y2="320.0" class="a"/>
<line x1="705.50" y1="7.5" x2="705.50" y2="14.0" class="a"/>
<line x1="57.5" y1="299.41" x2="64.0" y2="299.41" class="a"/>
<line x1="743.5" y1="299.41" x2="737.0" y2="299.41" class="a"/>
<line x1="57.5" y1="255.11" x2="64.0" y2="255.11" class="a"/>
<line x1="743.5" y1="255.11" x2="737.0" y2="255.11" class="a"/>
<line x1="57.5" y1="210.81" x2="64.0" y2="210.81" class="a"/>
<line x1="743.5" y1="210.81" x2="737.0" y2="210.81" class="a"/>
<line x1="57.5" y1="166.50" x2="64.0" y2="166.50" class="a"/>
<line x1="743.5" y1="166.50" x2="737.0" y2="166.50" class="a"/>
<line x1="57.5" y1="122.19" x2="64.0" y2="122.19" class="a"/>
<line x1="743.5" y1="122.19" x2="737.0" y2="122.19" class="a"/>
<line x1="57.5" y1="77.89" x2="64.0" y2="77.89" class="a"/>
<line x1="743.5" y1="77.89" x2="737.0" y2="77.89" class="a"/>
<line x1="57.5" y1="33.59" x2="64.0" y2="33.59" class="a"/>
<line x1="743.5" y1="33.59" x2="737.0" y2="33.59" class="a"/>
<rect x="57.5" y="7.5" width="686.0" height="319.0" class="a" fill="none"/>
<text transform="translate(53.50,341.80) scale(1,1.05)" class="t">0</text>
<text transform="translate(142.07,341.80) scale(1,1.05)" class="t">2</text>
<text transform="translate(150.07,341.80) scale(1,1.05)" class="t">0</text>
<text transform="translate(234.64,341.80) scale(1,1.05)" class="t">4</text>
<text transform="translate(242.64,341.80) scale(1,1.05)" class="t">0</text>
<text transform="translate(327.22,341.80) scale(1,1.05)" class="t">6</text>
<text transform="translate(335.22,341.80) scale(1,1.05)" class="t">0</text>
<text transform="translate(419.79,341.80) scale(1,1.05)" class="t">8</text>
<text transform="translate(427.79,341.80) scale(1,1.05)" class="t">0</text>
<path transform="translate(508.36,341.80) scale(0.006836,-0.006836)" d="M763,0 L583,0 L583,1147 C540,1106 483,1064 413,1023 C343,982 280,951 223,930 L223,1104 C324,1151 412,1209 487,1276 C562,1343 615,1409 646,1466 L763,1466 Z" class="tf"/>
<text transform="translate(516.36,341.80) scale(1,1.05)" class="t">0</text>
<text transform="translate(524.36,341.80) scale(1,1.05)" class="t">0</text>
<path transform="translate(600.93,341.80) scale(0.006836,-0.006836)" d="M763,0 L583,0 L583,1147 C540,1106 483,1064 413,1023 C343,982 280,951 223,930 L223,1104 C324,1151 412,1209 487,1276 C562,1343 615,1409 646,1466 L763,1466 Z" class="tf"/>
<text transform="translate(608.93,341.80) scale(1,1.05)" class="t">2</text>
<text transform="translate(616.93,341.80) scale(1,1.05)" class="t">0</text>
<path transform="translate(693.50,341.80) scale(0.006836,-0.006836)" d="M763,0 L583,0 L583,1147 C540,1106 483,1064 413,1023 C343,982 280,951 223,930 L223,1104 C324,1151 412,1209 487,1276 C562,1343 615,1409 646,1466 L763,1466 Z" class="tf"/>
<text transform="translate(701.50,341.80) scale(1,1.05)" class="t">4</text>
<text transform="translate(709.50,341.80) scale(1,1.05)" class="t">0</text>
<path transform="translate(30.00,303.81) scale(0.006836,-0.006836)" d="M763,0 L583,0 L583,1147 C540,1106 483,1064 413,1023 C343,982 280,951 223,930 L223,1104 C324,1151 412,1209 487,1276 C562,1343 615,1409 646,1466 L763,1466 Z" class="tf"/>
<text transform="translate(38.00,303.81) scale(1,1.05)" class="t">5</text>
<text transform="translate(46.00,303.81) scale(1,1.05)" class="t">0</text>
<rect x="24.00" y="299.72" width="3.8" height="1.25" class="tf"/>
<path transform="translate(30.00,259.51) scale(0.006836,-0.006836)" d="M763,0 L583,0 L583,1147 C540,1106 483,1064 413,1023 C343,982 280,951 223,930 L223,1104 C324,1151 412,1209 487,1276 C562,1343 615,1409 646,1466 L763,1466 Z" class="tf"/>
<text transform="translate(38.00,259.51) scale(1,1.05)" class="t">0</text>
<text transform="translate(46.00,259.51) scale(1,1.05)" class="t">0</text>
<rect x="24.00" y="255.41" width="3.8" height="1.25" class="tf"/>
<text transform="translate(38.00,215.21) scale(1,1.05)" class="t">5</text>
<text transform="translate(46.00,215.21) scale(1,1.05)" class="t">0</text>
<rect x="32.00" y="211.11" width="3.8" height="1.25" class="tf"/>
<text transform="translate(46.00,170.90) scale(1,1.05)" class="t">0</text>
<text transform="translate(38.00,126.59) scale(1,1.05)" class="t">5</text>
<text transform="translate(46.00,126.59) scale(1,1.05)" class="t">0</text>
<path transform="translate(30.00,82.29) scale(0.006836,-0.006836)" d="M763,0 L583,0 L583,1147 C540,1106 483,1064 413,1023 C343,982 280,951 223,930 L223,1104 C324,1151 412,1209 487,1276 C562,1343 615,1409 646,1466 L763,1466 Z" class="tf"/>
<text transform="translate(38.00,82.29) scale(1,1.05)" class="t">0</text>
<text transform="translate(46.00,82.29) scale(1,1.05)" class="t">0</text>
<path transform="translate(30.00,37.99) scale(0.006836,-0.006836)" d="M763,0 L583,0 L583,1147 C540,1106 483,1064 413,1023 C343,982 280,951 223,930 L223,1104 C324,1151 412,1209 487,1276 C562,1343 615,1409 646,1466 L763,1466 Z" class="tf"/>
<text transform="translate(38.00,37.99) scale(1,1.05)" class="t">5</text>
<text transform="translate(46.00,37.99) scale(1,1.05)" class="t">0</text>
<text transform="translate(400.50,358.50) scale(1,1.05)" text-anchor="middle" class="t">Time (s)</text>
<text transform="translate(16.50,165.00) rotate(-90) scale(1,1.05)" text-anchor="middle" class="t lg">Azimuth angle (°)</text>
<rect x="423.5" y="12.5" width="315" height="62" fill="#fff" class="a"/>
<circle cx="449" cy="23.40" r="2.0" fill="#0000c0"/>
<text transform="translate(471.60,28.60) scale(1,1.05)" class="t lg">Accelerometer 49+ hydrophone</text>
<circle cx="449" cy="42.95" r="2.0" fill="#d80000"/>
<text transform="translate(471.60,48.15) scale(1,1.05)" class="t lg">Accelerometer 50+ hydrophone</text>
<circle cx="449" cy="62.50" r="2.0" fill="#00e000"/>
<text transform="translate(471.60,67.70) scale(1,1.05)" class="t lg">Estimated from positional sensors</text>
</g>
</svg>
</body></html>
